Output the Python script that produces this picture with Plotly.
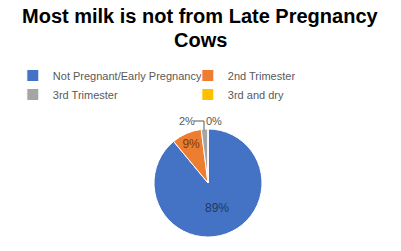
import plotly.graph_objects as go

labels = ["Not Pregnant/Early Pregnancy", "2nd Trimester", "3rd Trimester", "3rd and dry"]
values = [89, 9, 2, 0]
colors = ["#4472C4", "#ED7D31", "#A5A5A5", "#FFC000"]
text_colors = ["#1F3864", "#7F3A0E", "#595959", "#595959"]
positions = ["inside", "inside", "none", "none"]
title_lines = ["Most milk is not from Late Pregnancy", "Cows"]

W, H = 401, 251
cx, cy, r = 208, 183, 54

fig = go.Figure(go.Pie(
    labels=labels, values=values, sort=False, direction="clockwise", rotation=0,
    marker=dict(colors=colors, line=dict(color="white", width=1)),
    textinfo="percent", texttemplate="%{percent:.0%}",
    textposition=positions,
    insidetextfont=dict(color=text_colors, size=12, family="Liberation Sans"),
    domain=dict(x=[(cx - r) / W, (cx + r) / W], y=[1 - (cy + r) / H, 1 - (cy - r) / H]),
    showlegend=True,
))

for i, t in enumerate(title_lines):
    fig.add_annotation(text=t, x=0.5, xref="paper", xanchor="center",
                       y=1 - (16 + 24 * i) / H, yref="paper", yanchor="middle",
                       showarrow=False,
                       font=dict(size=20, color="black", family="Liberation Sans", weight="bold"))

# outside labels for the small slices, with a leader line
tot = sum(values)
for v, px in [(values[2], 187), (values[3], 214)]:
    fig.add_annotation(text=f"{round(100 * v / tot)}%", x=px / W, xref="paper", xanchor="center",
                       y=1 - 121 / H, yref="paper", yanchor="middle", showarrow=False,
                       font=dict(size=11, color="#595959", family="Liberation Sans"))
fig.add_shape(type="path", xref="paper", yref="paper",
              path=f"M {194/W},{1-121/H} L {204/W},{1-121/H} L {204/W},{1-130/H}",
              line=dict(color="#595959", width=1))

fig.update_layout(
    width=W, height=H,
    margin=dict(l=0, r=0, t=0, b=0),
    paper_bgcolor="white",
    font=dict(family="Liberation Sans", color="#595959"),
    legend=dict(orientation="h", x=0.032, xanchor="left", y=1 - 61 / H, yanchor="top",
                entrywidth=130, entrywidthmode="pixels", bgcolor="rgba(0,0,0,0)",
                font=dict(size=11, color="#595959"), itemwidth=30),
)

fig.write_html("out.html")
